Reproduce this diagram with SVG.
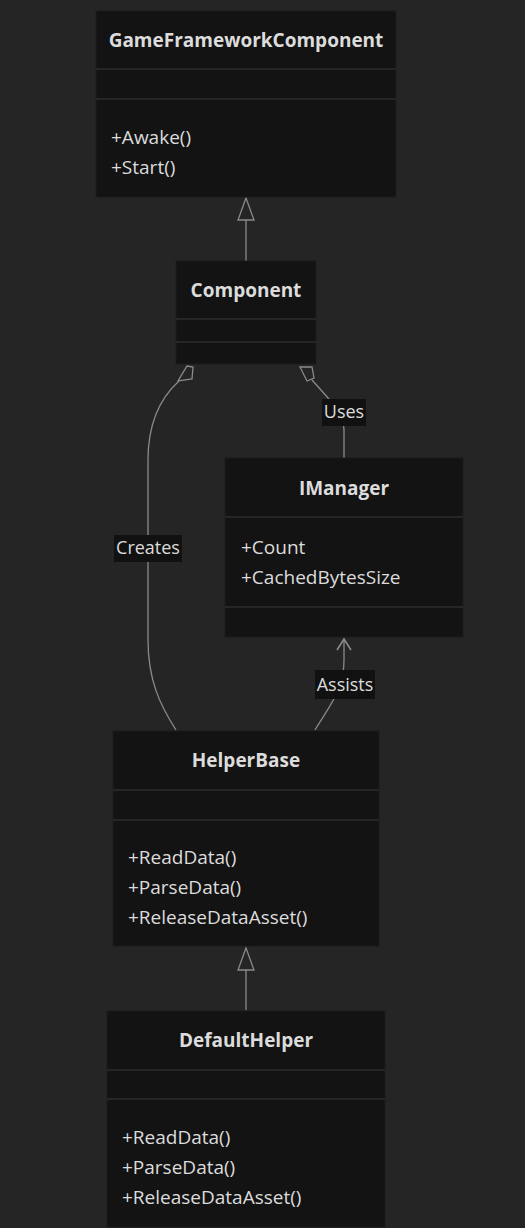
<svg xmlns="http://www.w3.org/2000/svg" width="525" height="1228" viewBox="0 0 525 1228">
<defs>
<style>
.box{fill:#131313;stroke:#1c1c1c;stroke-width:1}
.div{stroke:#262626;stroke-width:2}
.t{font-family:"Open Sans","Noto Sans","DejaVu Sans",sans-serif;fill:#dcdcdc}
.title{font-size:19px;font-weight:bold;text-anchor:middle}
.m{font-size:19px}
.lbl{font-size:18px;text-anchor:middle}
.lblbg{fill:#111111}
.edge{fill:none;stroke:#8a8a8a;stroke-width:1.3}
</style>
</defs>
<rect width="525" height="1228" fill="#252526"/>

<g id="connectors">
<line class="edge" x1="246" y1="261" x2="246" y2="220"/>
<path d="M246,198 L254,220 L238,220 Z" fill="#252526" stroke="#8a8a8a" stroke-width="1.3"/>
<line class="edge" x1="246" y1="1010" x2="246" y2="970"/>
<path d="M246,948 L254,970 L238,970 Z" fill="#252526" stroke="#8a8a8a" stroke-width="1.3"/>
<path d="M187,366 L193,367 L192,379 L178,381 Z" fill="#252526" stroke="#8a8a8a" stroke-width="1.3"/>
<path class="edge" d="M179,381 C158,400 148,425 148,460 L148,640 C148,680 160,705 176,730"/>
<path d="M300,367 L312,367 L314,378 L307,381 Z" fill="#252526" stroke="#8a8a8a" stroke-width="1.3"/>
<path class="edge" d="M312,380 C325,395 344,412 344,430 L344,458"/>
<path class="edge" d="M315,730 C330,705 344,690 344,660 L344,640"/>
<path d="M337,650 L344,639 L351,650" fill="none" stroke="#8a8a8a" stroke-width="1.6"/>
<rect class="lblbg" x="114" y="535" width="68" height="27"/>
<text class="t lbl" x="148" y="554">Creates</text>
<rect class="lblbg" x="322" y="399" width="44" height="27"/>
<text class="t lbl" x="344" y="418">Uses</text>
<rect class="lblbg" x="315" y="670" width="60" height="29"/>
<text class="t lbl" x="345" y="691">Assists</text>
</g>

<g id="GameFrameworkComponent">
<rect class="box" x="96" y="11" width="300" height="186"/>
<line class="div" x1="96" y1="69" x2="396" y2="69"/>
<line class="div" x1="96" y1="99" x2="396" y2="99"/>
<text class="t title" x="246" y="47">GameFrameworkComponent</text>
<text class="t m" x="111" y="144">+Awake()</text>
<text class="t m" x="111" y="174">+Start()</text>
</g>

<g id="Component">
<rect class="box" x="176" y="261" width="140" height="103"/>
<line class="div" x1="176" y1="319" x2="316" y2="319"/>
<line class="div" x1="176" y1="342" x2="316" y2="342"/>
<text class="t title" x="246" y="297">Component</text>
</g>

<g id="IManager">
<rect class="box" x="225" y="458" width="238" height="179"/>
<line class="div" x1="225" y1="517" x2="463" y2="517"/>
<line class="div" x1="225" y1="607" x2="463" y2="607"/>
<text class="t title" x="344" y="495">IManager</text>
<text class="t m" x="241" y="554">+Count</text>
<text class="t m" x="241" y="584">+CachedBytesSize</text>
</g>

<g id="HelperBase">
<rect class="box" x="113" y="731" width="266" height="215"/>
<line class="div" x1="113" y1="790" x2="379" y2="790"/>
<line class="div" x1="113" y1="820" x2="379" y2="820"/>
<text class="t title" x="246" y="767">HelperBase</text>
<text class="t m" x="128" y="864">+ReadData()</text>
<text class="t m" x="128" y="894">+ParseData()</text>
<text class="t m" x="128" y="924">+ReleaseDataAsset()</text>
</g>

<g id="DefaultHelper">
<rect class="box" x="107" y="1011" width="278" height="216"/>
<line class="div" x1="107" y1="1070" x2="385" y2="1070"/>
<line class="div" x1="107" y1="1099" x2="385" y2="1099"/>
<text class="t title" x="246" y="1047">DefaultHelper</text>
<text class="t m" x="122" y="1144">+ReadData()</text>
<text class="t m" x="122" y="1174">+ParseData()</text>
<text class="t m" x="122" y="1204">+ReleaseDataAsset()</text>
</g>
</svg>
